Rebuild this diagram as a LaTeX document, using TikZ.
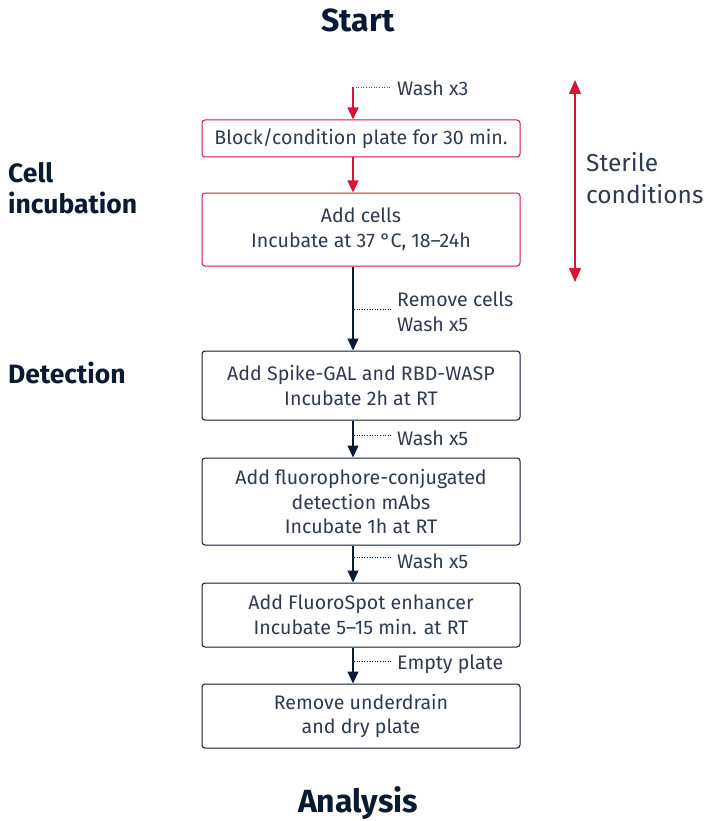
\documentclass[tikz,border=0pt]{standalone}
\usepackage{fontspec}
\setmainfont{Fira Sans}
\usetikzlibrary{arrows.meta}
\definecolor{fxred}{HTML}{D5153A}
\definecolor{fxnavy}{HTML}{0B1A33}
\definecolor{fxtext}{HTML}{2E3B4E}
\tikzset{
  redbox/.style={draw=fxred, line width=1pt, rounded corners=3pt, minimum width=318pt, align=center, text=fxtext, font=\fontsize{19.6}{24.5}\selectfont, inner sep=0pt},
  navybox/.style={redbox, draw=fxnavy},
  redarrow/.style={draw=fxred, line width=1.3pt, -{Triangle[length=12pt,width=11pt]}},
  navyarrow/.style={draw=fxnavy, line width=1.3pt, -{Triangle[length=12pt,width=11pt]}},
  dotline/.style={draw=fxnavy, line width=0.6pt, dotted},
  reddot/.style={draw=fxred, line width=0.6pt, dotted},
  note/.style={text=fxtext, font=\fontsize{19.6}{25}\selectfont, anchor=west, inner sep=0pt, align=left},
  heading/.style={text=fxnavy, font=\bfseries\fontsize{26.5}{31}\selectfont, anchor=west, inner sep=0pt, align=left},
  title/.style={text=fxnavy, font=\bfseries\fontsize{32}{36}\selectfont, inner sep=0pt}
}
\begin{document}
\begin{tikzpicture}[x=1pt,y=-1pt]
\useasboundingbox (0,0) rectangle (709,821);
\node[title] (start) at (358,20) {Start};
\node[title] (analysis) at (358,803) {Analysis};

\node[redbox, minimum height=37pt] (b1) at (361,138.5) {Block/condition plate for 30 min.};
\node[redbox, minimum height=73pt] (b2) at (361,229.5) {Add cells\\Incubate at 37 °C, 18–24h};
\node[navybox, minimum height=69pt] (b3) at (361,385.5) {Add Spike-GAL and RBD-WASP\\Incubate 2h at RT};
\node[navybox, minimum height=87pt] (b4) at (361,501.5) {Add fluorophore-conjugated\\detection mAbs\\Incubate 1h at RT};
\node[navybox, minimum height=64pt] (b5) at (361,615) {Add FluoroSpot enhancer\\Incubate 5–15 min. at RT};
\node[navybox, minimum height=64pt] (b6) at (361,716) {Remove underdrain\\and dry plate};

\coordinate (top) at (353,87);
\coordinate (d0) at (392,87);
\node[note] (n0) at (397,88) {Wash x3};
\draw[redarrow] (top) -- (top |- b1.north);
\draw[reddot] (top) -- (d0);

\draw[redarrow] (b1.south -| top) -- (b2.north -| top);

\draw[navyarrow] (b2.south -| top) -- (b3.north -| top);
\coordinate (d1a) at (354,309);
\coordinate (d1b) at (392,309);
\draw[dotline] (d1a) -- (d1b);
\node[note] (n1) at (397,312) {Remove cells\\Wash x5};

\draw[navyarrow] (b3.south -| top) -- (b4.north -| top);
\coordinate (d2a) at (354,435);
\coordinate (d2b) at (392,435);
\draw[dotline] (d2a) -- (d2b);
\node[note] (n2) at (397,438) {Wash x5};

\draw[navyarrow] (b4.south -| top) -- (b5.north -| top);
\coordinate (d3a) at (354,557);
\coordinate (d3b) at (392,557);
\draw[dotline] (d3a) -- (d3b);
\node[note] (n3) at (397,561) {Wash x5};

\draw[navyarrow] (b5.south -| top) -- (b6.north -| top);
\coordinate (d4a) at (354,661);
\coordinate (d4b) at (392,661);
\draw[dotline] (d4a) -- (d4b);
\node[note] (n4) at (397,664) {Empty plate};

\coordinate (s1) at (575,80);
\coordinate (s2) at (575,282);
\draw[draw=fxred, line width=1.3pt, {Triangle[length=14pt,width=12pt]}-{Triangle[length=14pt,width=12pt]}] (s1) -- (s2);
\node[note, font=\fontsize{24.5}{32}\selectfont] (ster) at (586,178) {Sterile\\conditions};

\node[heading] (cell) at (8,188) {Cell\\incubation};
\node[heading] (det) at (8,373) {Detection};
\end{tikzpicture}
\end{document}
